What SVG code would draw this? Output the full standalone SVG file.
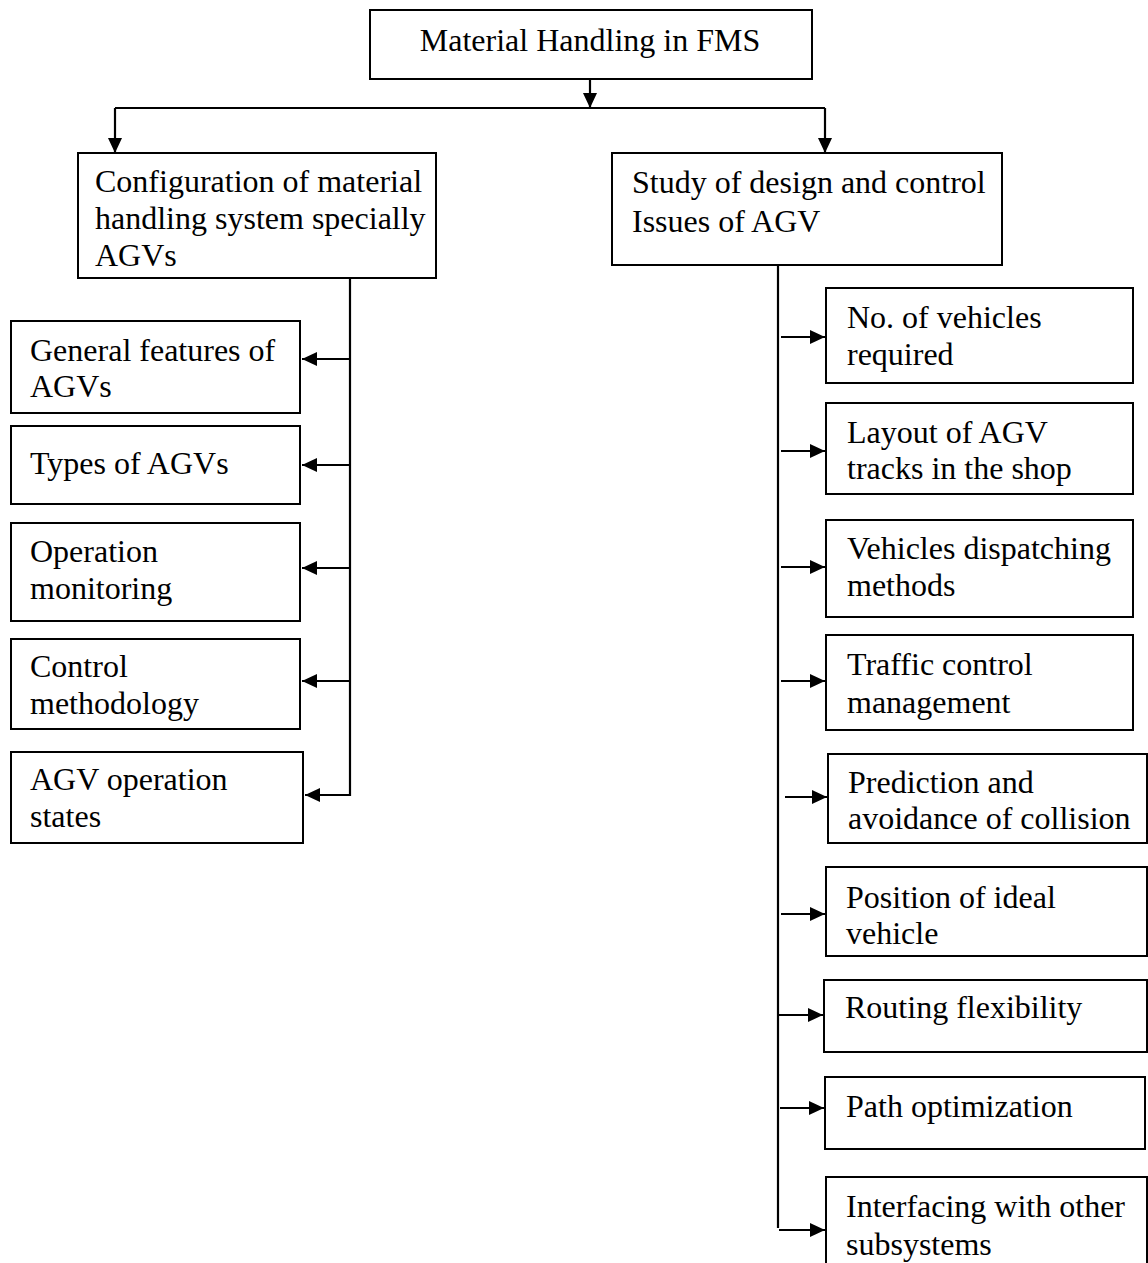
<svg xmlns="http://www.w3.org/2000/svg" width="1148" height="1263" viewBox="0 0 1148 1263">
<style>
.box{fill:#fff;stroke:#000;stroke-width:2}
.t{font-family:"Liberation Serif","Times New Roman",serif;font-size:32px;fill:#000}
.c{fill:none;stroke:#000;stroke-width:2.2}
</style>
<defs>
<marker id="ah" markerUnits="userSpaceOnUse" markerWidth="16" markerHeight="14" refX="15" refY="7" orient="auto">
<path d="M0,0 L15,7 L0,14 z" fill="#000"/>
</marker>
</defs>
<rect width="1148" height="1263" fill="#fff"/>
<g id="connectors">
<path class="c" d="M590,79 V108" marker-end="url(#ah)"/>
<path class="c" d="M115,108 H825"/>
<path class="c" d="M115,108 V153" marker-end="url(#ah)"/>
<path class="c" d="M825,108 V153" marker-end="url(#ah)"/>
<path class="c" d="M350,278 V796"/>
<path class="c" d="M350,359 H302" marker-end="url(#ah)"/>
<path class="c" d="M350,465 H302" marker-end="url(#ah)"/>
<path class="c" d="M350,568 H302" marker-end="url(#ah)"/>
<path class="c" d="M350,681 H302" marker-end="url(#ah)"/>
<path class="c" d="M351,795 H305" marker-end="url(#ah)"/>
<path class="c" d="M778,265 V1228"/>
<path class="c" d="M781,337 H825" marker-end="url(#ah)"/>
<path class="c" d="M781,451 H825" marker-end="url(#ah)"/>
<path class="c" d="M781,567 H825" marker-end="url(#ah)"/>
<path class="c" d="M781,681 H825" marker-end="url(#ah)"/>
<path class="c" d="M785,797 H827" marker-end="url(#ah)"/>
<path class="c" d="M781,914 H825" marker-end="url(#ah)"/>
<path class="c" d="M779,1015 H823" marker-end="url(#ah)"/>
<path class="c" d="M780,1108 H824" marker-end="url(#ah)"/>
<path class="c" d="M779,1230 H825" marker-end="url(#ah)"/>
</g>
<g id="root"><rect class="box" x="370" y="10" width="442" height="69"/><text class="t" x="590" y="51" text-anchor="middle">Material Handling in FMS</text></g>
<g id="config"><rect class="box" x="78" y="153" width="358" height="125"/><text class="t" x="95" y="192">Configuration of material</text><text class="t" x="95" y="229">handling system specially</text><text class="t" x="95" y="266">AGVs</text></g>
<g id="study"><rect class="box" x="612" y="153" width="390" height="112"/><text class="t" x="632" y="193">Study of design and control</text><text class="t" x="632" y="232">Issues of AGV</text></g>
<g id="general"><rect class="box" x="11" y="321" width="289" height="92"/><text class="t" x="30" y="361">General features of</text><text class="t" x="30" y="397">AGVs</text></g>
<g id="types"><rect class="box" x="11" y="426" width="289" height="78"/><text class="t" x="30" y="474">Types of AGVs</text></g>
<g id="opmon"><rect class="box" x="11" y="523" width="289" height="98"/><text class="t" x="30" y="562">Operation</text><text class="t" x="30" y="599">monitoring</text></g>
<g id="control"><rect class="box" x="11" y="639" width="289" height="90"/><text class="t" x="30" y="677">Control</text><text class="t" x="30" y="714">methodology</text></g>
<g id="agvstates"><rect class="box" x="11" y="752" width="292" height="91"/><text class="t" x="30" y="790">AGV operation</text><text class="t" x="30" y="827">states</text></g>
<g id="novehicles"><rect class="box" x="826" y="288" width="307" height="95"/><text class="t" x="847" y="328">No. of vehicles</text><text class="t" x="847" y="365">required</text></g>
<g id="layout"><rect class="box" x="826" y="403" width="307" height="91"/><text class="t" x="847" y="443">Layout of AGV</text><text class="t" x="847" y="479">tracks in the shop</text></g>
<g id="dispatch"><rect class="box" x="826" y="520" width="307" height="97"/><text class="t" x="847" y="559">Vehicles dispatching</text><text class="t" x="847" y="596">methods</text></g>
<g id="traffic"><rect class="box" x="826" y="635" width="307" height="95"/><text class="t" x="847" y="675">Traffic control</text><text class="t" x="847" y="713">management</text></g>
<g id="collision"><rect class="box" x="828" y="754" width="319" height="89"/><text class="t" x="848" y="793">Prediction and</text><text class="t" x="848" y="829">avoidance of collision</text></g>
<g id="position"><rect class="box" x="826" y="867" width="321" height="89"/><text class="t" x="846" y="908">Position of ideal</text><text class="t" x="846" y="944">vehicle</text></g>
<g id="routing"><rect class="box" x="824" y="980" width="323" height="72"/><text class="t" x="845" y="1018">Routing flexibility</text></g>
<g id="path"><rect class="box" x="825" y="1077" width="320" height="72"/><text class="t" x="846" y="1117">Path optimization</text></g>
<g id="interfacing"><rect class="box" x="826" y="1177" width="321" height="90"/><text class="t" x="846" y="1217">Interfacing with other</text><text class="t" x="846" y="1255">subsystems</text></g>
</svg>
